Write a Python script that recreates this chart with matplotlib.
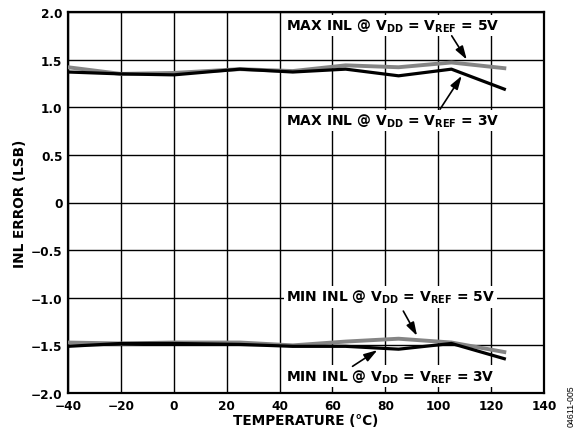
import matplotlib
matplotlib.use("Agg")
import matplotlib.pyplot as plt

plt.rcParams['font.family'] = ['DejaVu Sans']
plt.rcParams['font.weight'] = 'bold'
plt.rcParams['mathtext.fontset'] = 'custom'
plt.rcParams['mathtext.rm'] = 'DejaVu Sans:bold'
plt.rcParams['mathtext.bf'] = 'DejaVu Sans:bold'
plt.rcParams['mathtext.it'] = 'DejaVu Sans:bold'

temps = [-40, -20, 0, 25, 45, 65, 85, 105, 125]
max_5v = [1.42, 1.35, 1.36, 1.40, 1.38, 1.44, 1.42, 1.47, 1.41]
max_3v = [1.37, 1.35, 1.34, 1.40, 1.37, 1.40, 1.33, 1.40, 1.19]
min_5v = [-1.47, -1.48, -1.47, -1.47, -1.50, -1.46, -1.43, -1.47, -1.57]
min_3v = [-1.51, -1.48, -1.48, -1.49, -1.51, -1.51, -1.54, -1.48, -1.64]

xticks = [-40, -20, 0, 20, 40, 60, 80, 100, 120, 140]
yticks = [2.0, 1.5, 1.0, 0.5, 0, -0.5, -1.0, -1.5, -2.0]
ytick_labels = ['2.0', '1.5', '1.0', '0.5', '0', '\u22120.5', '\u22121.0', '\u22121.5', '\u22122.0']
xtick_labels = ['\u221240', '\u221220', '0', '20', '40', '60', '80', '100', '120', '140']

fig = plt.figure(figsize=(5.77, 4.35), dpi=100)
ax = fig.add_axes([68 / 577, 1 - 394 / 435, (544 - 68) / 577, (394 - 13) / 435])

gray = '#858585'
ax.plot(temps, max_5v, color=gray, lw=2.8, zorder=3)
ax.plot(temps, max_3v, color='black', lw=2.3, zorder=3)
ax.plot(temps, min_5v, color=gray, lw=2.8, zorder=3)
ax.plot(temps, min_3v, color='black', lw=2.3, zorder=3)

ax.set_xlim(-40, 140)
ax.set_ylim(-2.0, 2.0)
ax.set_xticks(xticks)
ax.set_xticklabels(xtick_labels)
ax.set_yticks(yticks)
ax.set_yticklabels(ytick_labels)
ax.tick_params(length=0, labelsize=8.7, pad=4)
ax.grid(True, color='black', lw=1.0)
ax.set_axisbelow(True)
for s in ax.spines.values():
    s.set_linewidth(1.6)

ax.set_xlabel('TEMPERATURE (\u00b0C)', fontsize=9.8, fontweight='bold', labelpad=1)
ax.set_ylabel('INL ERROR (LSB)', fontsize=9.8, fontweight='bold', labelpad=3)

bbox = dict(facecolor='white', edgecolor='none', pad=1.5)
fs = 10
labels = [
    (r'MAX INL @ V$_{\mathrm{DD}}$ = V$_{\mathrm{REF}}$ = 5V', 42.5, 1.86, (105.1, 1.75), (110.8, 1.50)),
    (r'MAX INL @ V$_{\mathrm{DD}}$ = V$_{\mathrm{REF}}$ = 3V', 42.5, 0.86, (100.7, 0.98), (108.9, 1.33)),
    (r'MIN INL @ V$_{\mathrm{DD}}$ = V$_{\mathrm{REF}}$ = 5V', 42.5, -0.99, (86.8, -1.14), (92.0, -1.40)),
    (r'MIN INL @ V$_{\mathrm{DD}}$ = V$_{\mathrm{REF}}$ = 3V', 42.5, -1.82, (67.6, -1.72), (77.0, -1.55)),
]
for txt, x, y, tail, head in labels:
    ax.text(x, y, txt, fontsize=fs, fontweight='bold', ha='left', va='center', bbox=bbox, zorder=4)
    ax.annotate('', xy=head, xytext=tail,
                arrowprops=dict(arrowstyle='-|>,head_length=0.8,head_width=0.25', color='black', lw=1.2,
                                shrinkA=0, shrinkB=0), zorder=5)

fig.text(571 / 577, 1 - 406 / 435, '04611-005', rotation=90, fontsize=6.3, fontweight='normal',
         family='Liberation Sans', ha='center', va='center')

fig.savefig('out.png', dpi=100)
